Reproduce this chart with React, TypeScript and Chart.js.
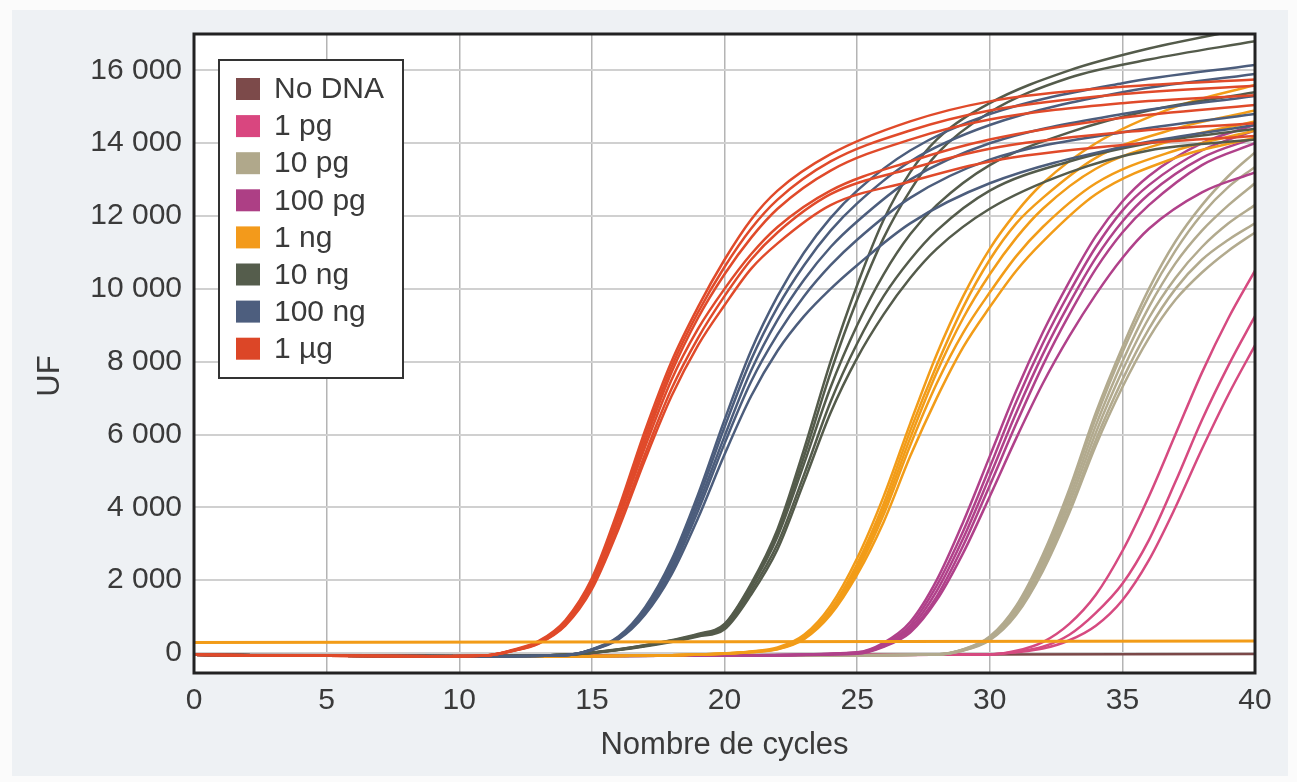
import React, { useEffect, useRef } from 'react';
import { Chart, registerables } from 'chart.js';

Chart.register(...registerables);

// ---------- legend / axis text ----------
const LEGEND_LABELS = ['No DNA', '1 pg', '10 pg', '100 pg', '1 ng', '10 ng', '100 ng', '1 µg'];
const LEGEND_COLORS = ['#7c4a4a', '#d9467f', '#b0a88b', '#ad3f85', '#f39a1b', '#555d4c', '#4d5e7e', '#dc4627'];
const X_TITLE = 'Nombre de cycles';
const Y_TITLE = 'UF';
const X_TICK_VALUES = [0, 5, 10, 15, 20, 25, 30, 35, 40];
const Y_TICK_VALUES = [0, 2000, 4000, 6000, 8000, 10000, 12000, 14000, 16000];
const Y_TICK_LABELS = ['0', '2 000', '4 000', '6 000', '8 000', '10 000', '12 000', '14 000', '16 000'];

// ---------- series (cycle, fluorescence) ----------
const CYCLES_NODNA = [0, 10, 20, 30, 40];
const NODNA = [[-50, -70, -60, -40, -30]];

const CYCLES_1PG = [0, 10, 20, 30, 31, 32, 33, 34, 35, 36, 37, 38, 39, 40];
const PG1 = [
  [-50, -90, -70, -40, 60, 300, 800, 1600, 2800, 4300, 6000, 7700, 9200, 10500],
  [-50, -90, -70, -40, 30, 170, 500, 1100, 1900, 3100, 4700, 6400, 7900, 9250],
  [-50, -90, -70, -40, 20, 120, 350, 750, 1450, 2550, 4000, 5600, 7100, 8450],
];

const CYCLES_10PG = [0, 10, 20, 28, 29, 30, 31, 32, 33, 34, 35, 36, 37, 38, 39, 40];
const PG10 = [
  [-50, -90, -70, -40, 100, 450, 1300, 2700, 4500, 6600, 8400, 10000, 11300, 12300, 13100, 13750],
  [-50, -90, -70, -40, 95, 430, 1250, 2600, 4400, 6450, 8250, 9800, 11050, 12050, 12800, 13350],
  [-50, -90, -70, -40, 90, 410, 1200, 2500, 4250, 6250, 8000, 9500, 10700, 11600, 12300, 12900],
  [-50, -90, -70, -40, 80, 390, 1150, 2400, 4100, 6050, 7750, 9200, 10300, 11150, 11800, 12300],
  [-50, -90, -70, -40, 70, 370, 1100, 2300, 3950, 5850, 7500, 8900, 10000, 10800, 11350, 11800],
  [-50, -90, -70, -40, 65, 350, 1050, 2250, 3850, 5700, 7300, 8650, 9700, 10450, 11050, 11550],
];

const CYCLES_100PG = [0, 10, 20, 25, 26, 27, 28, 29, 30, 31, 32, 33, 34, 35, 36, 38, 40];
const PG100 = [
  [-50, -90, -70, 20, 280, 850, 2000, 3600, 5400, 7200, 8800, 10200, 11450, 12400, 13100, 14000, 14500],
  [-50, -90, -70, 10, 240, 760, 1850, 3350, 5100, 6900, 8500, 9900, 11150, 12150, 12850, 13800, 14350],
  [-50, -90, -70, 0, 210, 680, 1700, 3150, 4850, 6600, 8200, 9600, 10850, 11850, 12600, 13600, 14150],
  [-50, -90, -70, -10, 190, 620, 1550, 2950, 4600, 6300, 7900, 9300, 10550, 11550, 12300, 13400, 14000],
  [-50, -90, -70, -20, 170, 560, 1450, 2750, 4300, 5900, 7400, 8700, 9850, 10850, 11650, 12650, 13200],
];

const CYCLES_1NG = [0, 10, 18, 21, 22, 23, 24, 25, 26, 27, 28, 29, 30, 31, 32, 34, 37, 40];
const NG1 = [
  [-50, -90, -60, 40, 150, 500, 1300, 2600, 4300, 6300, 8200, 9800, 11100, 12100, 12900, 14000, 15000, 15600],
  [-50, -90, -60, 35, 130, 450, 1200, 2450, 4100, 6100, 7900, 9500, 10800, 11800, 12500, 13600, 14400, 14900],
  [-50, -90, -60, 30, 120, 420, 1150, 2350, 3950, 5900, 7700, 9200, 10400, 11400, 12200, 13300, 14100, 14600],
  [-50, -90, -60, 25, 110, 400, 1100, 2250, 3800, 5700, 7400, 8800, 9900, 10900, 11700, 12900, 13800, 14350],
  [-50, -90, -60, 20, 100, 380, 1050, 2150, 3600, 5400, 7000, 8400, 9500, 10500, 11300, 12600, 13600, 14150],
];
const CYCLES_THRESHOLD = [0, 40];
const THRESHOLD = [290, 330];

const CYCLES_10NG = [0, 10, 14, 16, 18, 19, 20, 21, 22, 23, 24, 25, 26, 27, 28, 30, 33, 36, 40];
const NG10 = [
  [-50, -90, -50, 100, 350, 520, 800, 1900, 3400, 5600, 8000, 10100, 11900, 13200, 14100, 15100, 16000, 16600, 17200],
  [-50, -90, -50, 95, 340, 500, 780, 1850, 3300, 5400, 7700, 9700, 11400, 12700, 13700, 14850, 15800, 16300, 16800],
  [-50, -90, -50, 90, 330, 490, 750, 1800, 3200, 5200, 7300, 9000, 10400, 11500, 12300, 13400, 14300, 14900, 15400],
  [-50, -90, -50, 85, 320, 470, 700, 1700, 3000, 4900, 6900, 8500, 9800, 10800, 11600, 12700, 13500, 14000, 14400],
  [-50, -90, -50, 80, 300, 450, 650, 1600, 2850, 4700, 6600, 8100, 9300, 10300, 11100, 12200, 13200, 13800, 14100],
];

const CYCLES_100NG = [0, 10, 14, 15, 16, 17, 18, 19, 20, 21, 22, 23, 24, 25, 27, 30, 35, 40];
const NG100 = [
  [-50, -90, -60, 100, 450, 1250, 2550, 4350, 6400, 8300, 9800, 11000, 11950, 12700, 13800, 14800, 15650, 16150],
  [-50, -90, -60, 95, 430, 1200, 2450, 4200, 6200, 8050, 9500, 10650, 11600, 12350, 13500, 14500, 15400, 15900],
  [-50, -90, -60, 90, 410, 1150, 2350, 4050, 5950, 7750, 9150, 10250, 11150, 11850, 13000, 14000, 14800, 15300],
  [-50, -90, -60, 85, 390, 1100, 2250, 3900, 5750, 7450, 8750, 9800, 10650, 11350, 12500, 13550, 14300, 14800],
  [-50, -90, -60, 80, 370, 1050, 2150, 3700, 5450, 7050, 8300, 9250, 10000, 10650, 11800, 12900, 13900, 14500],
];

const CYCLES_1UG = [0, 9, 11, 12, 13, 14, 15, 16, 17, 18, 19, 20, 21, 22, 24, 27, 30, 35, 40];
const UG1 = [
  [-50, -90, -70, 80, 330, 900, 2050, 3950, 6100, 8000, 9500, 10800, 11900, 12700, 13700, 14600, 15150, 15550, 15750],
  [-50, -90, -70, 70, 310, 870, 2000, 3850, 5950, 7850, 9350, 10600, 11650, 12450, 13500, 14350, 14900, 15350, 15580],
  [-50, -90, -70, 65, 300, 840, 1950, 3750, 5800, 7700, 9200, 10400, 11400, 12200, 13250, 14100, 14650, 15100, 15320],
  [-50, -90, -70, 60, 290, 820, 1900, 3650, 5650, 7500, 8900, 10000, 10950, 11700, 12700, 13500, 14100, 14700, 15050],
  [-50, -90, -70, 55, 270, 780, 1800, 3500, 5450, 7250, 8650, 9800, 10800, 11550, 12600, 13300, 13850, 14300, 14550],
  [-50, -90, -70, 50, 260, 750, 1750, 3400, 5300, 7050, 8450, 9550, 10550, 11250, 12300, 12950, 13500, 13950, 14200],
];

const CURVE_COLORS = ['#7b4848', '#d64a80', '#b2aa8e', '#b0418a', '#f29c18', '#545b4b', '#4c5d7c', '#e04a2a'];

const GROUPS = [
  { label: LEGEND_LABELS[0], color: CURVE_COLORS[0], cycles: CYCLES_NODNA, reps: NODNA },
  { label: LEGEND_LABELS[1], color: CURVE_COLORS[1], cycles: CYCLES_1PG, reps: PG1 },
  { label: LEGEND_LABELS[2], color: CURVE_COLORS[2], cycles: CYCLES_10PG, reps: PG10 },
  { label: LEGEND_LABELS[3], color: CURVE_COLORS[3], cycles: CYCLES_100PG, reps: PG100 },
  { label: LEGEND_LABELS[4], color: CURVE_COLORS[4], cycles: CYCLES_1NG, reps: NG1 },
  { label: LEGEND_LABELS[5], color: CURVE_COLORS[5], cycles: CYCLES_10NG, reps: NG10 },
  { label: LEGEND_LABELS[6], color: CURVE_COLORS[6], cycles: CYCLES_100NG, reps: NG100 },
  { label: LEGEND_LABELS[7], color: CURVE_COLORS[7], cycles: CYCLES_1UG, reps: UG1 },
];

const FONT = "'Liberation Sans', Arial, Helvetica, sans-serif";
const TEXT_COLOR = '#3a3a3a';

export default function App() {
  const ref = useRef<HTMLCanvasElement | null>(null);

  useEffect(() => {
    if (!ref.current) return;

    const datasets: any[] = [];
    datasets.push({
      label: 'threshold',
      data: CYCLES_THRESHOLD.map((c, i) => ({ x: c, y: THRESHOLD[i] })),
      borderColor: CURVE_COLORS[4],
      borderWidth: 3,
      pointRadius: 0,
      fill: false,
      tension: 0,
    });
    [7, 6, 5, 4, 3, 2, 1, 0].forEach((gi) => {
      const g = GROUPS[gi];
      g.reps.forEach((rep) => {
        datasets.push({
          label: g.label,
          data: g.cycles.map((c, i) => ({ x: c, y: rep[i] })),
          borderColor: g.color,
          borderWidth: 2.5,
          pointRadius: 0,
          fill: false,
          cubicInterpolationMode: 'monotone',
        });
      });
    });

    const decor = {
      id: 'decor',
      beforeDraw(chart: any) {
        const { ctx, chartArea: a } = chart;
        ctx.save();
        ctx.fillStyle = '#ffffff';
        ctx.fillRect(a.left, a.top, a.right - a.left, a.bottom - a.top);
        ctx.restore();
      },
      afterDraw(chart: any) {
        const { ctx, chartArea: a } = chart;
        ctx.save();
        ctx.lineWidth = 3;
        ctx.strokeStyle = '#222222';
        ctx.strokeRect(a.left, a.top, a.right - a.left, a.bottom - a.top);
        const L = a.left + 25;
        const T = a.top + 26;
        const W = 184;
        const H = 318;
        ctx.fillStyle = '#ffffff';
        ctx.fillRect(L, T, W, H);
        ctx.lineWidth = 2;
        ctx.strokeStyle = '#333333';
        ctx.strokeRect(L, T, W, H);
        ctx.font = `30px ${FONT}`;
        ctx.textBaseline = 'middle';
        ctx.textAlign = 'left';
        LEGEND_LABELS.forEach((lab, i) => {
          const cy = T + 29 + i * 37.1;
          ctx.fillStyle = LEGEND_COLORS[i];
          ctx.fillRect(L + 17, cy - 11, 24, 22);
          ctx.fillStyle = TEXT_COLOR;
          ctx.fillText(lab, L + 55, cy + 1);
        });
        ctx.translate(50, 376);
        ctx.rotate(-Math.PI / 2);
        ctx.textAlign = 'center';
        ctx.font = `31px ${FONT}`;
        ctx.fillStyle = TEXT_COLOR;
        ctx.fillText(Y_TITLE, 0, 0);
        ctx.restore();
      },
    };

    const chart = new Chart(ref.current, {
      type: 'line',
      data: { datasets },
      options: {
        animation: false,
        responsive: false,
        events: [],
        layout: { padding: { left: 0, right: 42, top: 34, bottom: 0 } },
        plugins: { legend: { display: false }, tooltip: { enabled: false } },
        scales: {
          x: {
            type: 'linear',
            min: 0,
            max: 40,
            afterBuildTicks: (s: any) => {
              s.ticks = X_TICK_VALUES.map((v) => ({ value: v }));
            },
            afterFit: (s: any) => {
              s.height = 109;
            },
            ticks: {
              autoSkip: false,
              maxRotation: 0,
              padding: 10,
              color: TEXT_COLOR,
              font: { size: 30, family: FONT },
              callback: (v: any) => String(v),
            },
            grid: { color: '#b4b4b4', lineWidth: 1.5, drawTicks: false },
            border: { display: false },
            title: {
              display: true,
              text: X_TITLE,
              color: TEXT_COLOR,
              font: { size: 31, family: FONT },
              padding: { top: 0, bottom: 18 },
            },
          },
          y: {
            type: 'linear',
            min: -550,
            max: 17000,
            afterBuildTicks: (s: any) => {
              s.ticks = Y_TICK_VALUES.map((v) => ({ value: v }));
            },
            afterFit: (s: any) => {
              s.width = 194;
            },
            ticks: {
              autoSkip: false,
              padding: 12,
              color: TEXT_COLOR,
              font: { size: 30, family: FONT },
              callback: (v: any) => {
                const idx = Y_TICK_VALUES.indexOf(Number(v));
                return idx >= 0 ? Y_TICK_LABELS[idx] : '';
              },
            },
            grid: { color: '#d0d0d0', lineWidth: 2, drawTicks: false },
            border: { display: false },
          },
        },
      },
      plugins: [decor],
    });

    return () => chart.destroy();
  }, []);

  return (
    <div style={{ position: 'absolute', left: 0, top: 0, width: 1297, height: 782, background: '#fbfbfb' }}>
      <div style={{ position: 'absolute', left: 12, top: 10, width: 1276, height: 766, background: '#eef1f4' }} />
      <canvas ref={ref} width={1297} height={782} style={{ position: 'absolute', left: 0, top: 0 }} />
    </div>
  );
}
